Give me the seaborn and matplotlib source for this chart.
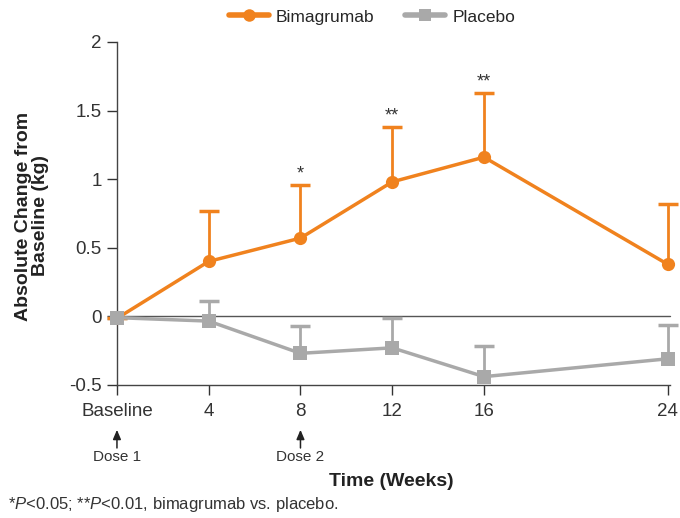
import matplotlib
matplotlib.use("Agg")
import matplotlib.pyplot as plt
import matplotlib.transforms as mtransforms
from matplotlib.lines import Line2D
import numpy as np
import pandas as pd
import seaborn as sns

# ---- data ----
weeks = [0, 4, 8, 12, 16, 24]
tick_labels = ["Baseline", "4", "8", "12", "16", "24"]
bima_mean = [-0.015, 0.40, 0.57, 0.98, 1.16, 0.38]
bima_upper = [-0.015, 0.77, 0.96, 1.38, 1.63, 0.82]
plac_mean = [-0.01, -0.035, -0.27, -0.23, -0.44, -0.31]
plac_upper = [-0.01, 0.11, -0.07, -0.01, -0.22, -0.065]
stars = ["", "", "*", "**", "**", ""]
series_names = ["Bimagrumab", "Placebo"]

ORANGE = "#F0821E"
GRAY = "#A9A9A9"

sns.set_theme(style="ticks")
plt.rcParams["font.family"] = ["Liberation Sans", "DejaVu Sans"]
plt.rcParams["mathtext.fontset"] = "custom"
plt.rcParams["mathtext.it"] = "Liberation Sans:italic"
plt.rcParams["mathtext.rm"] = "Liberation Sans"

fig = plt.figure(figsize=(6.8, 5.18), dpi=100)
ax = fig.add_axes([0.172, 0.257, 0.813, 0.662])

df = pd.DataFrame({
    "week": weeks * 2,
    "value": bima_mean + plac_mean,
    "group": [series_names[0]] * len(weeks) + [series_names[1]] * len(weeks),
})

ax.axhline(0, color="#555555", lw=1.0, zorder=1)

# error bars (upper only, cap only at the top)
for mean, upper, col, z in [(plac_mean, plac_upper, GRAY, 2), (bima_mean, bima_upper, ORANGE, 3)]:
    m = np.array(mean)
    u = np.array(upper)
    cont = ax.errorbar(weeks, m, yerr=[np.zeros_like(m), u - m], fmt="none",
                       ecolor=col, elinewidth=2.0, capsize=7, capthick=2.5, zorder=z, clip_on=False)
    caps = cont.lines[1]
    for cap in caps:
        yd = np.asarray(cap.get_ydata())
        if np.allclose(yd, m):
            cap.set_visible(False)

sns.lineplot(data=df, x="week", y="value", hue="group", style="group",
             palette={series_names[0]: ORANGE, series_names[1]: GRAY},
             markers={series_names[0]: "o", series_names[1]: "s"},
             dashes=False, markersize=9.5, markeredgewidth=0, linewidth=2.5,
             ax=ax, legend=False, clip_on=False, zorder=4)
for line in ax.lines:
    line.set_clip_on(False)

for x, up, s in zip(weeks, bima_upper, stars):
    if s:
        ax.text(x, up + 0.015, s, ha="center", va="bottom", fontsize=13, color="#333333")

ax.set_xlim(0, 24.1)
ax.set_ylim(-0.5, 2)
ax.set_xticks(weeks)
ax.set_xticklabels(tick_labels)
ax.set_yticks([-0.5, 0, 0.5, 1, 1.5, 2])
ax.set_yticklabels(["-0.5", "0", "0.5", "1", "1.5", "2"])
ax.tick_params(axis="both", labelsize=13.5, colors="#333333", length=7, width=1, direction="out", pad=4)
ax.tick_params(axis="x", pad=6)
sns.despine(ax=ax)
for sp in ["left", "bottom"]:
    ax.spines[sp].set_color("#444444")
    ax.spines[sp].set_linewidth(1.0)

ax.set_xlabel("")
ax.set_ylabel("")
fig.text(32 / 680, 1 - 216 / 518, "Absolute Change from\nBaseline (kg)", rotation=90,
         ha="center", va="center", fontsize=14, fontweight="bold", color="#222222",
         linespacing=1.05, multialignment="center")

fig.text(391 / 680, 1 - 481 / 518, "Time (Weeks)", ha="center", va="center", fontsize=14,
         fontweight="bold", color="#222222")

trans = mtransforms.blended_transform_factory(ax.transData, ax.transAxes)
for xpos, lab in [(0, "Dose 1"), (8, "Dose 2")]:
    ax.annotate("", xy=(xpos, -0.131), xytext=(xpos, -0.184), xycoords=trans, textcoords=trans,
                arrowprops=dict(arrowstyle="-|>,head_length=0.4,head_width=0.17", color="#222222",
                                lw=1.1, mutation_scale=14, shrinkA=0, shrinkB=0))
    ax.text(xpos, -0.21, lab, transform=trans, ha="center", va="center", fontsize=11, color="#333333")

fig.text(0.012, 1 - 504 / 518, r"*$\it{P}$<0.05; **$\it{P}$<0.01, bimagrumab vs. placebo.",
         ha="left", va="center", fontsize=12, color="#333333")

handles = [
    Line2D([], [], color=ORANGE, marker="o", markersize=9, lw=4, markeredgewidth=0),
    Line2D([], [], color=GRAY, marker="s", markersize=9, lw=4, markeredgewidth=0),
]
fig.legend(handles, series_names, loc="center", bbox_to_anchor=(0.547, 1 - 17 / 518), ncol=2,
           frameon=False, fontsize=12.5, handlelength=2.3, columnspacing=1.8, handletextpad=0.4)

fig.savefig("out.png", dpi=100, facecolor="white")
